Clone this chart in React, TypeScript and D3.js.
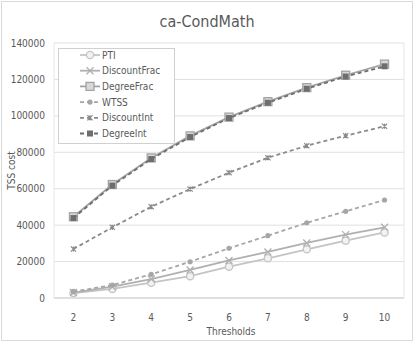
import React, { useRef, useEffect } from "react";
import * as d3 from "d3";

const thresholds = [2, 3, 4, 5, 6, 7, 8, 9, 10];
const yTicks = [0, 20000, 40000, 60000, 80000, 100000, 120000, 140000];

const pti = [2700, 5000, 8400, 12000, 17200, 21800, 26700, 31500, 36000];
const discountFrac = [3000, 6200, 10400, 15400, 20600, 25300, 30200, 34800, 38800];
const degreeFrac = [44600, 62300, 76900, 89000, 99300, 107800, 115500, 122300, 128400];
const wtss = [3500, 7100, 13000, 19900, 27300, 34200, 41300, 47600, 53800];
const discountInt = [26900, 38800, 50100, 59800, 68800, 77000, 83600, 89100, 94300];
const degreeInt = [43900, 61700, 76300, 88400, 98800, 107200, 114900, 121600, 127200];

type Series = { name: string; values: number[]; color: string; dash: string; marker: string };

const series: Series[] = [
  { name: "PTI", values: pti, color: "#c4c4c4", dash: "", marker: "circle" },
  { name: "DiscountFrac", values: discountFrac, color: "#b0b0b0", dash: "", marker: "x" },
  { name: "DegreeFrac", values: degreeFrac, color: "#a3a3a3", dash: "", marker: "squareOpen" },
  { name: "WTSS", values: wtss, color: "#a6a6a6", dash: "4,3", marker: "dot" },
  { name: "DiscountInt", values: discountInt, color: "#8a8a8a", dash: "4,3", marker: "star" },
  { name: "DegreeInt", values: degreeInt, color: "#6e6e6e", dash: "4,3", marker: "square" },
];

const font = "'DejaVu Sans', sans-serif";

function styleText(t: any, size: number) {
  return t.style("font-family", font)
    .style("font-stretch", "condensed")
    .style("font-size", size + "px")
    .attr("fill", "#595959");
}

function drawMarker(g: any, kind: string, cx: number, cy: number, color: string) {
  if (kind === "circle") {
    g.append("circle").attr("cx", cx).attr("cy", cy).attr("r", 3.6)
      .attr("fill", "#f2f2f2").attr("stroke", color).attr("stroke-width", 1.3);
  } else if (kind === "x") {
    const s = 3.5;
    g.append("path")
      .attr("d", `M${cx - s},${cy - s}L${cx + s},${cy + s}M${cx - s},${cy + s}L${cx + s},${cy - s}`)
      .attr("stroke", color).attr("stroke-width", 1.3).attr("fill", "none");
  } else if (kind === "squareOpen") {
    g.append("rect").attr("x", cx - 4).attr("y", cy - 4).attr("width", 8).attr("height", 8)
      .attr("fill", "#d9d9d9").attr("stroke", color).attr("stroke-width", 1.3);
  } else if (kind === "dot") {
    g.append("circle").attr("cx", cx).attr("cy", cy).attr("r", 2.6).attr("fill", color);
  } else if (kind === "star") {
    const s = 2.6;
    g.append("path")
      .attr("d", `M${cx - s},${cy - s}L${cx + s},${cy + s}M${cx - s},${cy + s}L${cx + s},${cy - s}M${cx},${cy - s}L${cx},${cy + s}`)
      .attr("stroke", color).attr("stroke-width", 1.2).attr("fill", "none");
  } else {
    g.append("rect").attr("x", cx - 3).attr("y", cy - 3).attr("width", 6).attr("height", 6)
      .attr("fill", color);
  }
}

const App = () => {
  const svgRef = useRef<SVGSVGElement>(null);

  useEffect(() => {
    const width = 415, height = 343;
    const margin = { top: 43, right: 11, bottom: 45, left: 54 };

    const svg = d3.select(svgRef.current)
      .attr("width", width)
      .attr("height", height)
      .style("background", "#fff");
    svg.selectAll("*").remove();

    // outer frame
    svg.append("rect").attr("x", 1.5).attr("y", 1.5).attr("width", 411).attr("height", 339)
      .attr("fill", "#fff").attr("stroke", "#d9d9d9");

    const x = d3.scalePoint<number>()
      .domain(thresholds)
      .range([margin.left, width - margin.right])
      .padding(0.5);

    const y = d3.scaleLinear()
      .domain([0, 140000])
      .range([height - margin.bottom, margin.top]);

    // grid
    svg.append("g")
      .selectAll("line")
      .data(yTicks)
      .enter().append("line")
      .attr("x1", margin.left).attr("x2", width - margin.right)
      .attr("y1", d => y(d)).attr("y2", d => y(d))
      .attr("stroke", d => (d === 0 ? "#bfbfbf" : "#e0e0e0"));

    // plot area sides
    svg.append("line").attr("x1", margin.left).attr("x2", margin.left)
      .attr("y1", margin.top).attr("y2", y(0)).attr("stroke", "#e6e6e6");
    svg.append("line").attr("x1", width - margin.right).attr("x2", width - margin.right)
      .attr("y1", margin.top).attr("y2", y(0)).attr("stroke", "#e6e6e6");

    // Y tick labels
    styleText(svg.append("g")
      .selectAll("text")
      .data(yTicks)
      .enter().append("text")
      .attr("x", 45).attr("y", d => y(d))
      .attr("dy", "0.35em")
      .attr("text-anchor", "end"), 10)
      .text(d => d);

    // X tick labels
    styleText(svg.append("g")
      .selectAll("text")
      .data(thresholds)
      .enter().append("text")
      .attr("x", d => x(d)!).attr("y", 317)
      .attr("dy", "0.35em")
      .attr("text-anchor", "middle"), 10)
      .text(d => d);

    // lines
    const line = d3.line<number>()
      .x((_, i) => x(thresholds[i])!)
      .y(d => y(d));

    series.forEach(s => {
      svg.append("path")
        .datum(s.values)
        .attr("fill", "none")
        .attr("stroke", s.color)
        .attr("stroke-width", 1.8)
        .attr("stroke-dasharray", s.dash || null)
        .attr("d", line);
      const g = svg.append("g");
      s.values.forEach((v, i) => drawMarker(g, s.marker, x(thresholds[i])!, y(v), s.color));
    });

    // title
    styleText(svg.append("text")
      .attr("x", 207).attr("y", 27)
      .attr("text-anchor", "middle"), 16)
      .text("ca-CondMath");

    // axis titles
    styleText(svg.append("text")
      .attr("transform", `translate(11, ${(margin.top + y(0)) / 2}) rotate(-90)`)
      .attr("text-anchor", "middle")
      .attr("dy", "0.35em"), 10)
      .text("TSS cost");

    styleText(svg.append("text")
      .attr("x", 231).attr("y", 335)
      .attr("text-anchor", "middle"), 10)
      .text("Thresholds");

    // legend
    const legend = svg.append("g");
    legend.append("rect").attr("x", 58.5).attr("y", 48.5).attr("width", 116).attr("height", 95)
      .attr("fill", "#fff").attr("stroke", "#d0d0d0");
    series.forEach((s, i) => {
      const ly = 55 + i * 15.7;
      legend.append("line").attr("x1", 80).attr("x2", 100).attr("y1", ly).attr("y2", ly)
        .attr("stroke", s.color).attr("stroke-width", 1.8)
        .attr("stroke-dasharray", s.dash || null);
      drawMarker(legend, s.marker, 90, ly, s.color);
      styleText(legend.append("text")
        .attr("x", 102).attr("y", ly).attr("dy", "0.35em"), 10)
        .text(s.name);
    });
  }, []);

  return (
    <div style={{ position: "fixed", top: 0, left: 0 }}>
      <svg ref={svgRef}></svg>
    </div>
  );
};

export default App;
